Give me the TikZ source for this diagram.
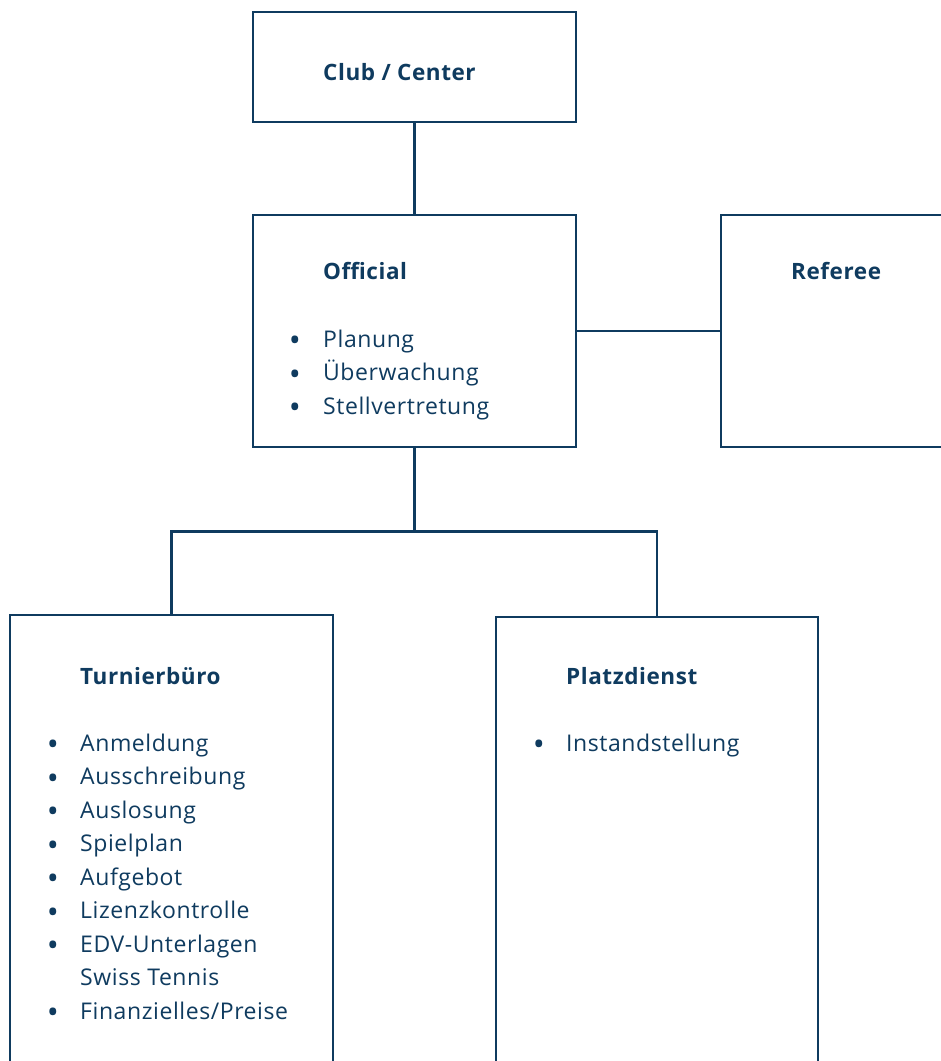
\documentclass[tikz,border=0pt]{standalone}
\usepackage{fontspec}
\setmainfont{Open Sans}
\usepackage{xcolor}
\usepackage{tikz}
\usetikzlibrary{positioning, calc}
\definecolor{orgnavy}{HTML}{0F3B5F}

\tikzset{
  orgbox/.style={draw=orgnavy, line width=2.5pt, inner sep=0pt, fill=white},
  orgtitle/.style={orgnavy, anchor=base west, inner sep=0pt, font=\fontsize{22.5}{22.5}\selectfont\bfseries\addfontfeatures{LetterSpace=2.5}},
  orgitem/.style={orgnavy, anchor=base west, inner sep=0pt, font=\fontsize{23}{23}\selectfont\addfontfeatures{LetterSpace=2.5}},
  orgdot/.style={orgnavy, anchor=base, inner sep=0pt, font=\fontsize{32}{32}\selectfont},
  orgline/.style={draw=orgnavy, line width=2.5pt}
}

\begin{document}
\begin{tikzpicture}[x=1pt, y=-1pt]
  % Page frame
  \useasboundingbox (0,0) rectangle (941,1061);
  \clip (0,0) rectangle (941,1061);

  % Boxes (lower and right ones run past the page edge)
  \node[orgbox, minimum width=323pt, minimum height=110pt] (club) at (414.5,67) {};
  \node[orgbox, minimum width=323pt, minimum height=232pt] (official) at (414.5,331) {};
  \node[orgbox, minimum width=323pt, minimum height=232pt] (referee) at (882.5,331) {};
  \node[orgbox, minimum width=323pt, minimum height=500pt] (buero) at (171.5,865) {};
  \node[orgbox, minimum width=322pt, minimum height=500pt] (platz) at (657,867) {};

  % Connectors
  \coordinate (fork) at ($(official.south)+(0,83)$);
  \draw[orgline] (club.south) -- (official.north);
  \draw[orgline] (official.east) -- (referee.west);
  \draw[orgline] (official.south) -- (fork);
  \draw[orgline] (buero.north) |- (fork) -| (platz.north);

  % Club / Center
  \node[orgtitle] (clubtitle) at (323,80) {Club / Center};

  % Official
  \node[orgtitle] (offtitle) at (323,279) {Official};
  \node[orgdot] (offdot1) at (295,351.5) {•};
  \node[orgitem] (offitem1) at (323,347) {Planung};
  \node[orgdot] (offdot2) at (295,385) {•};
  \node[orgitem] (offitem2) at (323,380.5) {Überwachung};
  \node[orgdot] (offdot3) at (295,418.5) {•};
  \node[orgitem] (offitem3) at (323,414) {Stellvertretung};

  % Referee
  \node[orgtitle] (reftitle) at (791,279) {Referee};

  % Turnierbuero
  \node[orgtitle] (buerotitle) at (80,684) {Turnierbüro};
  \node[orgdot] (buerodot1) at (53,755.5) {•};
  \node[orgitem] (bueroitem1) at (80,751) {Anmeldung};
  \node[orgdot] (buerodot2) at (53,789) {•};
  \node[orgitem] (bueroitem2) at (80,784.5) {Ausschreibung};
  \node[orgdot] (buerodot3) at (53,822.5) {•};
  \node[orgitem] (bueroitem3) at (80,818) {Auslosung};
  \node[orgdot] (buerodot4) at (53,856) {•};
  \node[orgitem] (bueroitem4) at (80,851.5) {Spielplan};
  \node[orgdot] (buerodot5) at (53,889.5) {•};
  \node[orgitem] (bueroitem5) at (80,885) {Aufgebot};
  \node[orgdot] (buerodot6) at (53,923) {•};
  \node[orgitem] (bueroitem6) at (80,918.5) {Lizenzkontrolle};
  \node[orgdot] (buerodot7) at (53,956.5) {•};
  \node[orgitem] (bueroitem7) at (80,952) {EDV-Unterlagen};
  \node[orgitem] (bueroitem7b) at (80,985.5) {Swiss Tennis};
  \node[orgdot] (buerodot8) at (53,1023.5) {•};
  \node[orgitem] (bueroitem8) at (80,1019) {Finanzielles/Preise};

  % Platzdienst
  \node[orgtitle] (platztitle) at (566,684) {Platzdienst};
  \node[orgdot] (platzdot1) at (539,755.5) {•};
  \node[orgitem] (platzitem1) at (566,751) {Instandstellung};
\end{tikzpicture}
\end{document}
